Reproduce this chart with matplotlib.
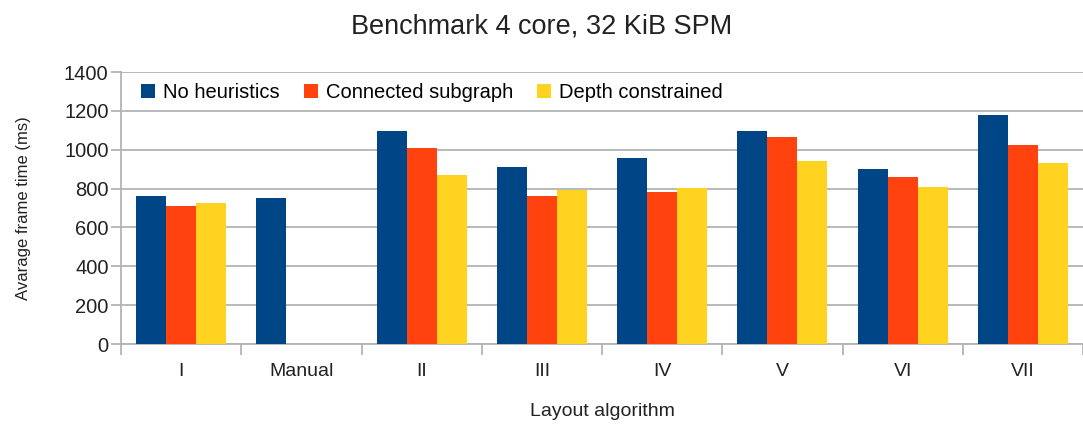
import matplotlib.pyplot as plt
import numpy as np

plt.rcParams['font.family'] = ['Liberation Sans', 'DejaVu Sans']

# data
categories = ['I', 'Manual', 'II', 'III', 'IV', 'V', 'VI', 'VII']
no_heuristics = [760, 754, 1097, 912, 956, 1098, 903, 1177]
connected_subgraph = [711, np.nan, 1007, 764, 783, 1066, 858, 1026]
depth_constrained = [727, np.nan, 869, 795, 802, 944, 809, 934]

colors = ['#004586', '#ff420e', '#ffd320']
grid_col = '#b3b3b3'
txt = '#222222'

fig = plt.figure(figsize=(10.83, 4.24), dpi=100)
ax = fig.add_axes([121 / 1083, 80 / 424, 962 / 1083, 272 / 424])

x = np.arange(len(categories))
w = 0.25
ax.bar(x - w, no_heuristics, w, color=colors[0], label='No heuristics', zorder=3)
ax.bar(x, connected_subgraph, w, color=colors[1], label='Connected subgraph', zorder=3)
ax.bar(x + w, depth_constrained, w, color=colors[2], label='Depth constrained', zorder=3)

ax.set_xlim(-0.5, len(categories) - 0.5)
ax.set_ylim(0, 1400)
ax.set_yticks(range(0, 1401, 200))
ax.yaxis.grid(True, color=grid_col, linewidth=1.3, zorder=0)

# boundary ticks between groups, labels at group centres
ax.set_xticks(np.arange(-0.5, len(categories), 1.0))
ax.set_xticklabels([])
ax.set_xticks(x, minor=True)
ax.set_xticklabels(categories, minor=True)
ax.tick_params(axis='x', which='major', length=8, color=grid_col, width=1.3)
ax.tick_params(axis='x', which='minor', length=0, pad=14, labelsize=14, labelcolor=txt)
ax.tick_params(axis='y', length=7, color=grid_col, width=1.3, labelsize=14.5, labelcolor=txt, pad=2)

for s in ['top', 'right']:
    ax.spines[s].set_visible(False)
for s in ['left', 'bottom']:
    ax.spines[s].set_color(grid_col)
    ax.spines[s].set_linewidth(1.3)

ax.set_xlabel('Layout algorithm', fontsize=14, labelpad=16, color=txt)
ax.set_ylabel('Avarage frame time (ms)', fontsize=12, labelpad=24, color=txt)
fig.suptitle('Benchmark 4 core, 32 KiB SPM', fontsize=19.5, y=0.968, color=txt)

ax.legend(loc='upper left', bbox_to_anchor=(0.007, 1.008), ncol=3, frameon=False,
          fontsize=14.5, handlelength=0.7, handleheight=0.7, handletextpad=0.4,
          columnspacing=1.2, borderaxespad=0.25)

plt.savefig('out.png', dpi=100)
